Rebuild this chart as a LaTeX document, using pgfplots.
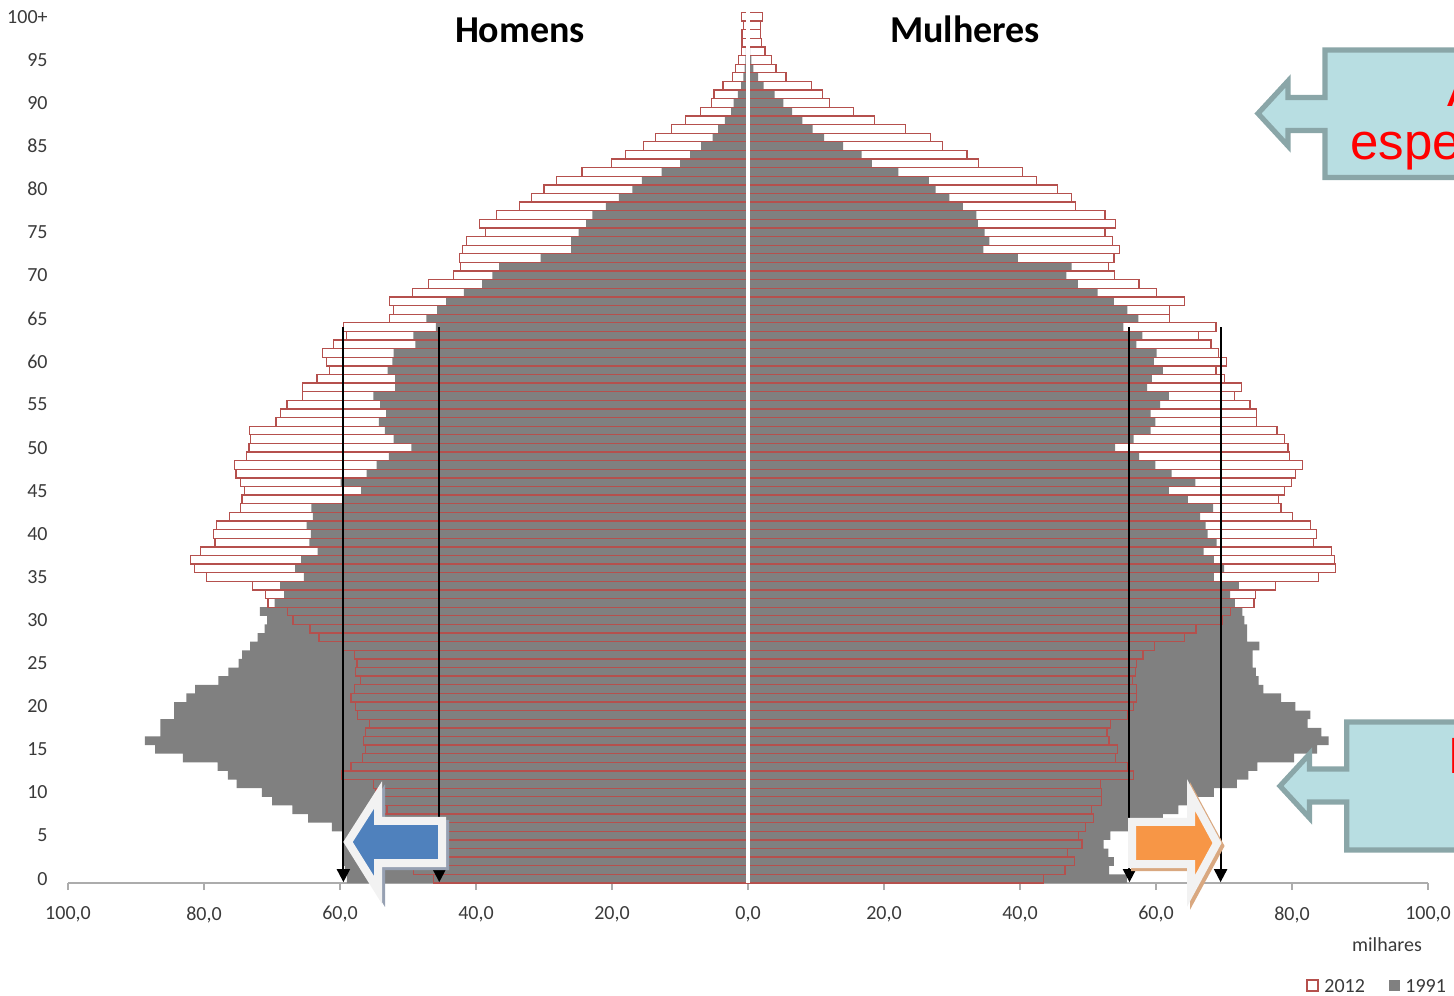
\documentclass[border=0pt]{standalone}
\usepackage{pgfplots}
\pgfplotsset{compat=1.18}
\usepackage{pgfplotstable}
\usepackage{fontspec}
\setmainfont{Carlito}
\newfontfamily\arialfont{Liberation Sans}
\usetikzlibrary{arrows.meta}

\definecolor{bar91}{HTML}{808080}
\definecolor{edge12}{HTML}{B5504D}
\definecolor{callfill}{HTML}{B8DEE2}
\definecolor{calledge}{HTML}{8AA6A8}
\definecolor{lbl}{HTML}{3A3A3A}
\definecolor{bluearr}{HTML}{4F81BD}
\definecolor{orangearr}{HTML}{F79646}

% population by single year of age, thousands (men negative)
\pgfplotstableread{
age m91 f91 m12 f12
0 -59.0 55.7 -46.2 43.5
1 -59.3 53.1 -49.2 46.6
2 -59.5 53.8 -50.0 48.0
3 -59.5 53.0 -51.0 47.0
4 -59.7 52.3 -51.5 49.1
5 -59.5 53.3 -52.5 48.6
6 -61.2 57.0 -53.5 49.6
7 -64.7 61.0 -54.0 50.8
8 -67.0 63.3 -53.1 50.5
9 -70.0 65.7 -54.6 52.0
10 -71.5 68.5 -54.7 52.0
11 -75.2 71.9 -55.1 51.8
12 -76.5 73.6 -59.7 56.7
13 -78.0 74.9 -58.4 55.8
14 -83.1 80.3 -56.7 54.0
15 -87.2 83.7 -56.3 54.3
16 -88.7 85.4 -56.5 53.1
17 -86.4 84.3 -56.2 52.8
18 -86.4 82.3 -55.7 53.3
19 -84.4 82.7 -57.4 55.9
20 -84.4 80.5 -57.7 56.7
21 -82.6 78.4 -58.4 57.1
22 -81.3 75.8 -57.9 57.1
23 -77.9 75.1 -57.0 56.5
24 -76.4 74.7 -57.7 57.0
25 -74.9 74.2 -57.5 57.1
26 -74.4 74.2 -57.9 58.1
27 -73.2 75.2 -59.5 59.8
28 -72.1 73.4 -63.1 64.2
29 -71.1 73.4 -64.4 65.9
30 -70.7 73.0 -66.9 69.7
31 -71.8 72.7 -67.7 71.0
32 -69.6 71.6 -70.6 74.4
33 -68.2 70.9 -71.0 74.6
34 -68.8 72.2 -72.9 77.6
35 -65.3 68.5 -79.6 83.9
36 -66.6 70.0 -81.4 86.4
37 -65.7 68.5 -82.0 86.2
38 -63.3 67.0 -80.5 85.8
39 -64.5 68.9 -78.4 83.2
40 -64.3 67.6 -78.6 83.6
41 -64.9 67.3 -78.2 82.7
42 -64.0 66.5 -76.2 80.1
43 -64.2 68.4 -74.6 78.4
44 -59.6 64.7 -74.4 78.0
45 -56.9 61.9 -74.0 78.9
46 -59.9 65.8 -74.6 79.9
47 -56.1 62.3 -75.3 80.5
48 -54.6 59.9 -75.5 81.5
49 -52.8 57.5 -73.7 79.6
50 -49.5 54.0 -73.4 79.4
51 -52.1 56.7 -73.2 78.9
52 -53.4 59.2 -73.3 77.8
53 -54.3 59.9 -69.4 74.8
54 -53.2 59.2 -68.7 74.8
55 -54.1 60.6 -67.8 73.8
56 -55.1 61.9 -65.5 71.5
57 -51.9 58.7 -65.5 72.6
58 -51.9 59.4 -63.4 70.1
59 -53.0 61.0 -61.5 68.8
60 -52.3 59.7 -62.0 70.4
61 -52.1 60.1 -62.6 69.2
62 -48.9 57.1 -61.0 68.1
63 -49.2 58.0 -59.0 66.2
64 -45.9 55.2 -59.5 68.8
65 -47.3 57.4 -52.7 62.0
66 -45.7 55.8 -52.1 62.0
67 -44.4 53.8 -52.7 64.2
68 -41.8 51.4 -49.3 60.1
69 -39.1 48.5 -47.0 57.5
70 -37.6 46.8 -43.3 53.9
71 -36.6 47.6 -42.3 53.0
72 -30.5 39.7 -42.4 53.8
73 -26.0 34.6 -42.0 54.6
74 -26.0 35.5 -41.4 53.6
75 -24.9 34.8 -38.6 52.5
76 -23.8 33.8 -39.5 54.0
77 -22.9 33.6 -37.0 52.5
78 -20.9 31.6 -33.6 48.2
79 -19.0 29.6 -31.8 47.6
80 -17.0 27.6 -30.0 45.5
81 -15.6 26.6 -28.2 42.4
82 -12.7 22.1 -24.4 40.4
83 -10.0 18.2 -20.1 33.9
84 -8.5 16.7 -18.0 32.2
85 -6.9 14.0 -15.4 28.6
86 -5.2 11.2 -13.6 26.8
87 -4.4 9.5 -11.3 23.2
88 -3.4 8.0 -9.2 18.6
89 -2.5 6.5 -7.0 15.5
90 -2.1 5.2 -5.4 12.0
91 -1.5 3.9 -5.0 11.0
92 -1.0 2.3 -3.7 9.3
93 -0.7 1.5 -2.3 5.6
94 -0.5 0.8 -1.8 4.1
95 -0.4 0.5 -1.4 3.5
96 -0.3 0.3 -1.0 2.5
97 -0.2 0.2 -0.9 2.0
98 -0.2 0.2 -0.9 1.8
99 -0.1 0.1 -0.7 1.8
100 -0.2 0.2 -1.0 2.1
}\pyramid

\begin{document}
\begin{tikzpicture}
\useasboundingbox (0,0) rectangle (727pt,497.5pt);
\begin{axis}[
    at={(34pt,56pt)}, anchor=south west,
    scale only axis, width=680pt, height=435.25pt,
    xmin=-100, xmax=100, ymin=-0.5, ymax=100.5,
    axis x line*=bottom, axis y line*=left,
    x axis line style={draw=gray!65, line width=1pt},
    y axis line style={draw=none},
    tick align=outside,
    xtick={-100,-80,...,100},
    xticklabels={{100,0},{80,0},{60,0},{40,0},{20,0},{0,0},{20,0},{40,0},{60,0},{80,0},{100,0}},
    xtick style={draw=gray!65, line width=1pt},
    major tick length=3.5pt,
    ytick={0,5,...,100},
    yticklabels={0,5,10,15,20,25,30,35,40,45,50,55,60,65,70,75,80,85,90,95,100+},
    ytick style={draw=none},
    ticklabel style={font=\fontsize{10}{12}\selectfont, text=lbl},
    xticklabel style={anchor=north, inner sep=0pt, yshift=-8pt},
    yticklabel style={anchor=east, inner sep=0pt, xshift=-6.5pt},
    /pgf/number format/assume math mode=true,
    clip=false,
]
\addplot[xbar, bar shift=0pt, bar width=1, fill=bar91, draw=none] table[x=m91, y=age] {\pyramid};
\addplot[xbar, bar shift=0pt, bar width=1, fill=bar91, draw=none] table[x=f91, y=age] {\pyramid};
\addplot[xbar, bar shift=0pt, bar width=1, fill=none, draw=edge12, line width=0.65pt] table[x=m12, y=age] {\pyramid};
\addplot[xbar, bar shift=0pt, bar width=1, fill=none, draw=edge12, line width=0.65pt] table[x=f12, y=age] {\pyramid};

\draw[white, line width=1.6pt] (axis cs:0,-0.5) -- (axis cs:0,100.5);

\draw[black, line width=1pt, -{Triangle[length=6.5pt,width=6.5pt]}] (axis cs:-59.5,64) -- (axis cs:-59.5,-0.4);
\draw[black, line width=1pt, -{Triangle[length=6.5pt,width=6.5pt]}] (axis cs:-45.4,64) -- (axis cs:-45.4,-0.4);
\draw[black, line width=1pt, -{Triangle[length=6.5pt,width=6.5pt]}] (axis cs:56.1,64) -- (axis cs:56.1,-0.4);
\draw[black, line width=1pt, -{Triangle[length=6.5pt,width=6.5pt]}] (axis cs:69.5,64) -- (axis cs:69.5,-0.4);
\end{axis}

\begin{scope}[x=0.5pt, y=-0.5pt, shift={(0pt,497.5pt)}]
  % titles
  \node[anchor=base, inner sep=0pt, font=\fontsize{19}{22}\selectfont\bfseries] at (520,42.5) {Homens};
  \node[anchor=base, inner sep=0pt, font=\fontsize{19}{22}\selectfont\bfseries] at (965,42.5) {Mulheres};

  % blue and orange arrows
  \draw[line width=4pt, draw={rgb,255:red,150;green,160;blue,178}, line join=miter]
    (351,845) -- (381,798) -- (381,824) -- (445,824) -- (445,866) -- (381,866) -- (381,893) -- cycle;
  \draw[line width=4pt, draw={rgb,255:red,242;green,242;blue,242}, fill=bluearr, line join=miter]
    (348,842) -- (378,795) -- (378,821) -- (442,821) -- (442,863) -- (378,863) -- (378,890) -- cycle;
  \draw[line width=4pt, draw={rgb,255:red,217;green,168;blue,128}, line join=miter]
    (1220,846) -- (1194,798) -- (1194,825) -- (1135,825) -- (1135,867) -- (1194,867) -- (1194,894) -- cycle;
  \draw[line width=4pt, draw={rgb,255:red,242;green,242;blue,242}, fill=orangearr, line join=miter]
    (1217,843) -- (1191,795) -- (1191,822) -- (1132,822) -- (1132,864) -- (1191,864) -- (1191,891) -- cycle;

  % callouts
  \draw[line width=2.6pt, draw=calledge, fill=callfill, line join=miter]
    (1258,113.5) -- (1288,81) -- (1288,97.5) -- (1325,97.5) -- (1325,50) -- (1480,50) -- (1480,177.5)
    -- (1325,177.5) -- (1325,130.5) -- (1288,130.5) -- (1288,146) -- cycle;
  \node[anchor=base west, inner sep=0pt, text=red, font=\arialfont\fontsize{25.5}{28}\selectfont] at (1447,107) {Aumento da};
  \node[anchor=base west, inner sep=0pt, text=red, font=\arialfont\fontsize{25.5}{28}\selectfont] at (1350,160) {esperança de vida};

  \draw[line width=2.6pt, draw=calledge, fill=callfill, line join=miter]
    (1280,786) -- (1309.5,754) -- (1309.5,769) -- (1346.7,769) -- (1346.7,722) -- (1480,722) -- (1480,850)
    -- (1346.7,850) -- (1346.7,802) -- (1309.5,802) -- (1309.5,818) -- cycle;
  \node[anchor=base west, inner sep=0pt, text=red, font=\arialfont\fontsize{25.5}{28}\selectfont] at (1448,774) {Diminuição da natalidade};

  % axis unit and legend
  \node[anchor=base, inner sep=0pt, text=lbl, font=\fontsize{10}{12}\selectfont] at (1387,951) {milhares};
  \draw[edge12, line width=0.65pt, fill=white] (1307,980) rectangle (1318,991);
  \node[anchor=base west, inner sep=0pt, text=lbl, font=\fontsize{10}{12}\selectfont] at (1324,992) {2012};
  \fill[bar91] (1389,980) rectangle (1400,991);
  \node[anchor=base west, inner sep=0pt, text=lbl, font=\fontsize{10}{12}\selectfont] at (1405,992) {1991};
\end{scope}
\end{tikzpicture}
\end{document}
